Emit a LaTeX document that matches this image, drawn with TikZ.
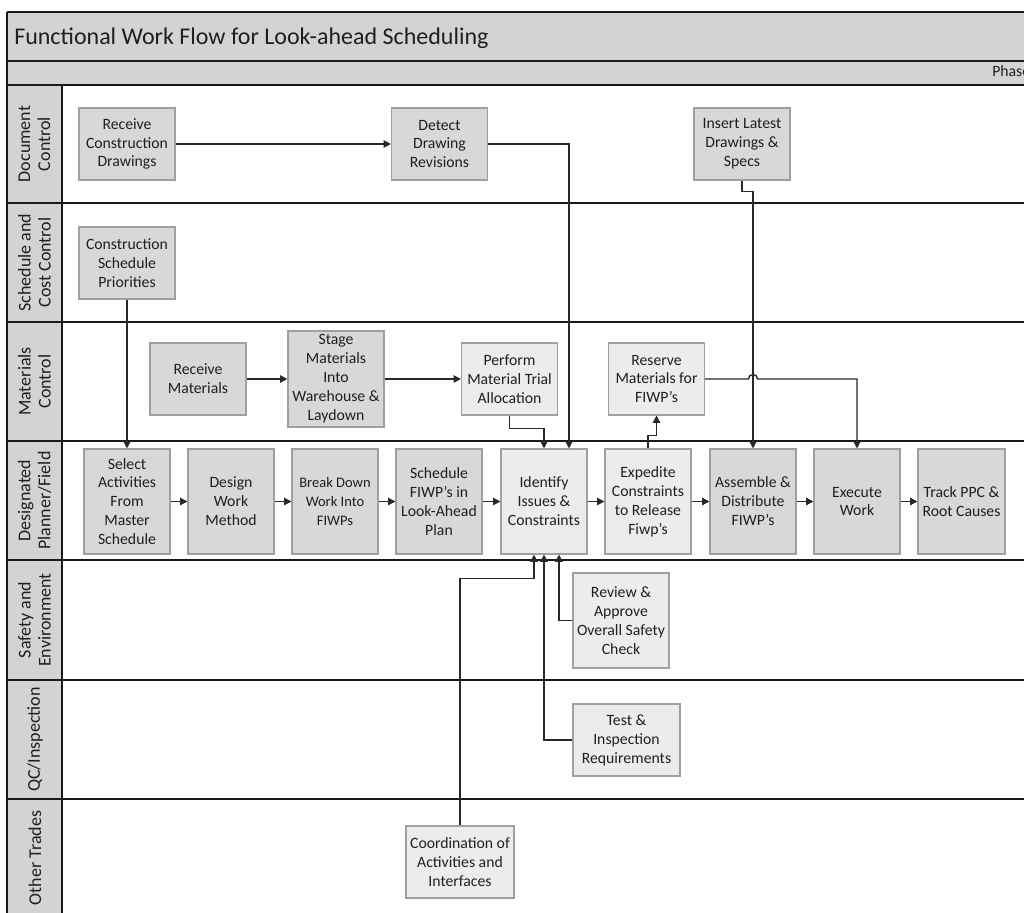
\documentclass[tikz,border=0pt]{standalone}
\usepackage{fontspec}
\setmainfont{Carlito}
\usetikzlibrary{arrows.meta,calc}

\definecolor{bandgray}{RGB}{211,211,211}
\definecolor{darkbox}{RGB}{216,216,216}
\definecolor{lightbox}{RGB}{236,236,236}
\definecolor{boxline}{RGB}{160,160,160}
\definecolor{ruleline}{RGB}{25,25,25}
\definecolor{wire}{RGB}{40,40,40}

\newcommand{\bxfont}{\fontsize{11.8}{14.2}\selectfont}
\newcommand{\smbxfont}{\fontsize{10.9}{13.9}\selectfont}
\newcommand{\lnfont}{\fontsize{13.5}{15}\selectfont}
\newcommand{\ttlfont}{\fontsize{18}{22}\selectfont}

\begin{document}
\begin{tikzpicture}[x=0.75pt,y=-0.75pt,
  box/.style={draw=boxline, line width=0.8pt, align=center, inner sep=1pt,
              font=\bxfont, text=black!88},
  dark/.style={box, fill=darkbox},
  light/.style={box, fill=lightbox},
  wd/.style 2 args={minimum width=#1*0.75pt, minimum height=#2*0.75pt},
  flow/.style={draw=wire, line width=1pt, -{Triangle[length=5.5pt,width=5.5pt]}},
  plain/.style={draw=wire, line width=1pt},
  lanelabel/.style={rotate=90, align=center, font=\lnfont, text=black!88},
  ruleln/.style={draw=ruleline, line width=1.6pt}]

\useasboundingbox (0,0) rectangle (1024,913);
\clip (0,0) rectangle (1024,913);

% ---- pool frame: header bands and lane-label column ----
\fill[bandgray] (7,12) rectangle (1040,85);
\fill[bandgray] (7,85) rectangle (62,930);
\foreach \yy in {12,61,85,203,322,441,560,680,799}
  \draw[ruleln] (7,\yy) -- (1040,\yy);
\draw[ruleln] (7,12) -- (7,930);
\draw[ruleln] (62,85) -- (62,930);

\node[anchor=base west, inner sep=0, font=\ttlfont, text=black!88] (title) at (14,45)
  {Functional Work Flow for Look-ahead Scheduling};
\node[anchor=base west, inner sep=0, font=\bxfont, text=black!88] (phase) at (992,77) {Phase};

% ---- lane labels ----
\node[lanelabel] (l1) at (34.5,144)   {Document\\Control};
\node[lanelabel] (l2) at (34.5,262.5) {Schedule and\\Cost Control};
\node[lanelabel] (l3) at (34.5,381.5) {Materials\\Control};
\node[lanelabel] (l4) at (34.5,500.5) {Designated\\Planner/Field};
\node[lanelabel] (l5) at (34.5,620)   {Safety and\\Environment};
\node[lanelabel] (l6) at (35,739.5)   {QC/Inspection};
\node[lanelabel] (l7) at (35,858)     {Other Trades};

% ---- Document Control ----
\node[dark, wd={96}{72}] (rcd) at (127,144)   {Receive\\Construction\\Drawings};
\node[dark, wd={96}{72}] (ddr) at (439.5,144) {Detect\\Drawing\\Revisions};
\node[dark, wd={96}{72}] (ild) at (742,144)   {Insert Latest\\Drawings \&\\Specs};

% ---- Schedule and Cost Control ----
\node[dark, wd={96}{72}] (csp) at (127,263) {Construction\\Schedule\\Priorities};

% ---- Materials Control ----
\node[dark, wd={96}{72}]  (rm)  at (198,379)   {Receive\\Materials};
\node[dark, wd={96}{96}]  (sm)  at (336,379)   {Stage\\Materials\\Into\\Warehouse \&\\Laydown};
\node[light, wd={96}{72}] (pmt) at (509.5,379) {Perform\\Material Trial\\Allocation};
\node[light, wd={96}{72}] (rmf) at (656.5,379) {Reserve\\Materials for\\FIWP’s};

% ---- Designated Planner/Field ----
\node[dark, wd={86}{105}]  (sel)   at (127,501.5) {Select\\Activities\\From\\Master\\Schedule};
\node[dark, wd={86}{105}]  (dwm)   at (231,501.5) {Design\\Work\\Method};
\node[dark, wd={86}{105}, font=\smbxfont] (bdw) at (335,501.5) {Break Down\\Work Into\\FIWPs};
\node[dark, wd={86}{105}]  (sch)   at (439,501.5) {Schedule\\FIWP’s in\\Look-Ahead\\Plan};
\node[light, wd={86}{105}] (ident) at (544,501.5) {Identify\\Issues \&\\Constraints};
\node[light, wd={86}{105}] (exp)   at (648,501.5) {Expedite\\Constraints\\to Release\\Fiwp’s};
\node[dark, wd={86}{105}]  (asm)   at (753,501.5) {Assemble \&\\Distribute\\FIWP’s};
\node[dark, wd={86}{105}]  (exe)   at (857,501.5) {Execute\\Work};
\node[dark, wd={87}{105}]  (trk)   at (961.5,501.5) {Track PPC \&\\Root Causes};

% ---- Safety, QC and other trades ----
\node[light, wd={96}{95}]  (rev) at (621,620.5) {Review \&\\Approve\\Overall Safety\\Check};
\node[light, wd={107}{72}] (tir) at (626.5,740) {Test \&\\Inspection\\Requirements};
\node[light, wd={108}{72}] (coa) at (460,862)   {Coordination of\\Activities and\\Interfaces};

% ---- connectors ----
\draw[flow] (rcd.east) -- (ddr.west);
\draw[flow] (ddr.east) -| ($(ident.north)+(25,0)$);
\draw[flow] (ild.south) -- ++(0,11) -| (asm.north);
\draw[flow] (csp.south) -- (sel.north);
\draw[flow] (rm.east) -- (sm.west);
\draw[flow] (sm.east) -- (pmt.west);
\draw[flow] (pmt.south) -- ++(0,13) -| (ident.north);
\draw[flow] (exp.north) -- ++(0,-13) -| (rmf.south);

\coordinate (hop) at (rmf.east -| asm.north);
\draw[flow] (rmf.east) -- ($(hop)+(-4.5,0)$)
  .. controls ($(hop)+(-4.5,-6)$) and ($(hop)+(4.5,-6)$) .. ($(hop)+(4.5,0)$)
  -- (rmf.east -| exe.north) -- (exe.north);

\draw[flow] (sel.east) -- (dwm.west);
\draw[flow] (dwm.east) -- (bdw.west);
\draw[flow] (bdw.east) -- (sch.west);
\draw[flow] (sch.east) -- (ident.west);
\draw[flow] (ident.east) -- (exp.west);
\draw[flow] (exp.east) -- (asm.west);
\draw[flow] (asm.east) -- (exe.west);
\draw[flow] (exe.east) -- (trk.west);

\draw[flow] (coa.north) |- ($(ident.south)+(-10,24)$) -- ($(ident.south)+(-10,0)$);
\draw[flow] (tir.west) -| (ident.south);
\draw[flow] (rev.west) -| ($(ident.south)+(15,0)$);

\end{tikzpicture}
\end{document}
